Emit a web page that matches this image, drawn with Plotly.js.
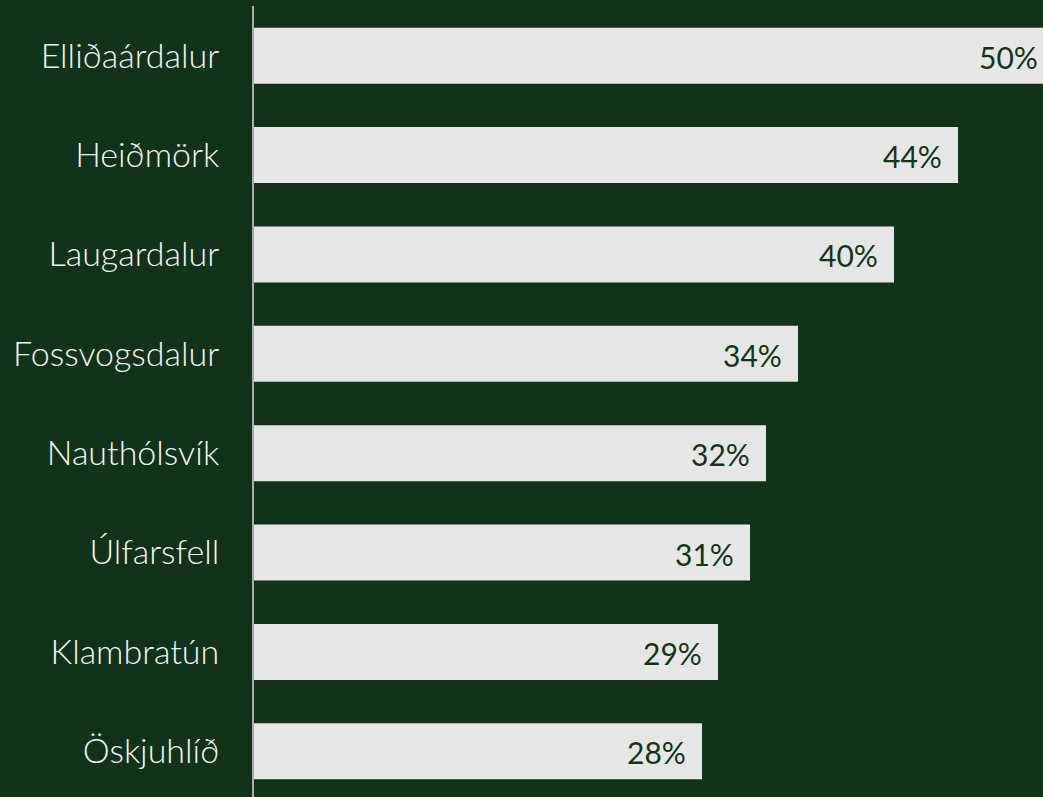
<!DOCTYPE html>
<html>
<head>
<meta charset="utf-8">
<script src="https://cdn.plot.ly/plotly-3.0.1.min.js"></script>
<style>
html, body { margin:0; padding:0; background:#11331a; overflow:hidden; width:1043px; height:797px; }
#chart { width:1060px; height:801px; }
</style>
</head>
<body>
<div id="chart"></div>
<script>
const categories = ["Elliðaárdalur","Heiðmörk","Laugardalur","Fossvogsdalur","Nauthólsvík","Úlfarsfell","Klambratún","Öskjuhlíð"];
const values = [50, 44, 40, 34, 32, 31, 29, 28];
const valueLabels = ["50%","44%","40%","34%","32%","31%","29%","28%"];

const bg = "#11331a";
const barColor = "#e6e6e6";
const textGreen = "#123619";
const fontFamily = "Lato, 'Noto Sans', sans-serif";

const trace = {
  type: "bar",
  orientation: "h",
  y: categories,
  x: values,
  marker: { color: barColor, line: { width: 0 } },
  hoverinfo: "skip"
};

const annotations = categories.map((c, i) => ({
  x: values[i], y: c, xref: "x", yref: "y",
  text: valueLabels[i], showarrow: false,
  xanchor: "right", yanchor: "middle", xshift: -14, yshift: -1,
  font: { family: fontFamily, size: 30, color: textGreen, weight: 400 }
}));

const layout = {
  width: 1060, height: 801,
  paper_bgcolor: bg, plot_bgcolor: bg,
  margin: { l: 254, r: 6, t: 6, b: 0 },
  bargap: 0.437,
  showlegend: false,
  xaxis: { range: [0, 50], visible: false, fixedrange: true },
  yaxis: {
    autorange: "reversed",
    showline: true, linecolor: "#a9ada9", linewidth: 2,
    ticks: "", showgrid: false, zeroline: false,
    ticklabelstandoff: 26,
    tickfont: { family: fontFamily, size: 34, color: "#f5f5f5", weight: 300 }
  },
  annotations: annotations
};

Plotly.newPlot("chart", [trace], layout, { displayModeBar: false, staticPlot: true });
</script>
</body>
</html>
